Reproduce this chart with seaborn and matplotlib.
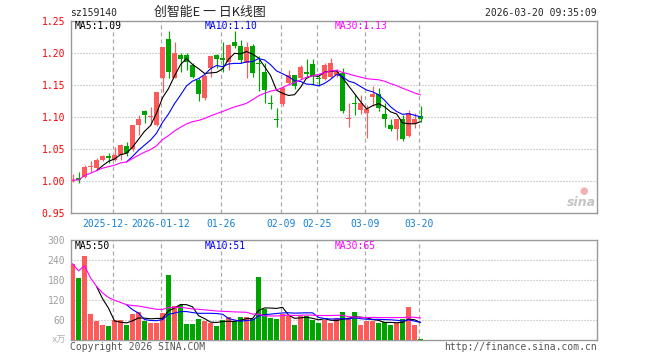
import numpy as np
import pandas as pd
import matplotlib
matplotlib.use("Agg")
import matplotlib.pyplot as plt
import matplotlib.transforms as mtransforms
import seaborn as sns

# chart data
dates = ["2025-12-18", "2025-12-19", "2025-12-22", "2025-12-23", "2025-12-24",
         "2025-12-25", "2025-12-26", "2025-12-29", "2025-12-30", "2025-12-31",
         "2026-01-05", "2026-01-06", "2026-01-07", "2026-01-08", "2026-01-09",
         "2026-01-12", "2026-01-13", "2026-01-14", "2026-01-15", "2026-01-16",
         "2026-01-19", "2026-01-20", "2026-01-21", "2026-01-22", "2026-01-23",
         "2026-01-26", "2026-01-27", "2026-01-28", "2026-01-29", "2026-01-30",
         "2026-02-02", "2026-02-03", "2026-02-04", "2026-02-05", "2026-02-06",
         "2026-02-09", "2026-02-10", "2026-02-11", "2026-02-12", "2026-02-13",
         "2026-02-24", "2026-02-25", "2026-02-26", "2026-02-27", "2026-03-02",
         "2026-03-03", "2026-03-04", "2026-03-05", "2026-03-06", "2026-03-09",
         "2026-03-10", "2026-03-11", "2026-03-12", "2026-03-13", "2026-03-16",
         "2026-03-17", "2026-03-18", "2026-03-19", "2026-03-20"]

opens = [1.000, 1.004, 1.006, 1.021, 1.020, 1.032, 1.038, 1.033, 1.040, 1.054,
         1.049, 1.087, 1.108, 1.100, 1.087, 1.160, 1.221, 1.160, 1.196, 1.196,
         1.181, 1.157, 1.129, 1.176, 1.196, 1.191, 1.186, 1.216, 1.210, 1.183,
         1.210, 1.184, 1.169, 1.122, 1.096, 1.120, 1.153, 1.165, 1.160, 1.169,
         1.182, 1.161, 1.159, 1.162, 1.165, 1.168, 1.096, 1.122, 1.110, 1.105,
         1.130, 1.135, 1.104, 1.087, 1.081, 1.097, 1.069, 1.088, 1.101]
closes = [1.001, 1.001, 1.022, 1.022, 1.032, 1.039, 1.036, 1.040, 1.056, 1.043,
          1.087, 1.097, 1.102, 1.101, 1.139, 1.208, 1.169, 1.200, 1.190, 1.186,
          1.162, 1.136, 1.163, 1.194, 1.190, 1.189, 1.211, 1.210, 1.189, 1.209,
          1.168, 1.182, 1.142, 1.120, 1.094, 1.144, 1.165, 1.148, 1.177, 1.167,
          1.163, 1.159, 1.181, 1.183, 1.170, 1.109, 1.097, 1.120, 1.121, 1.112,
          1.135, 1.113, 1.096, 1.081, 1.096, 1.065, 1.106, 1.096, 1.097]
highs = [1.010, 1.014, 1.024, 1.030, 1.036, 1.040, 1.043, 1.052, 1.058, 1.060,
         1.087, 1.103, 1.110, 1.115, 1.139, 1.208, 1.233, 1.217, 1.200, 1.200,
         1.183, 1.160, 1.166, 1.194, 1.197, 1.217, 1.213, 1.234, 1.220, 1.216,
         1.214, 1.195, 1.183, 1.134, 1.113, 1.147, 1.172, 1.165, 1.181, 1.190,
         1.190, 1.163, 1.184, 1.192, 1.175, 1.176, 1.121, 1.136, 1.133, 1.118,
         1.148, 1.145, 1.121, 1.096, 1.097, 1.103, 1.110, 1.105, 1.117]
lows = [0.998, 0.997, 1.004, 1.014, 1.016, 1.030, 1.027, 1.030, 1.032, 1.039,
        1.047, 1.071, 1.090, 1.087, 1.085, 1.139, 1.160, 1.160, 1.170, 1.172,
        1.160, 1.125, 1.126, 1.162, 1.176, 1.170, 1.172, 1.207, 1.183, 1.160,
        1.162, 1.140, 1.122, 1.112, 1.084, 1.116, 1.149, 1.143, 1.158, 1.160,
        1.150, 1.148, 1.157, 1.160, 1.162, 1.105, 1.083, 1.103, 1.104, 1.066,
        1.116, 1.108, 1.084, 1.077, 1.064, 1.062, 1.068, 1.082, 1.092]
# volume in 万
volumes = [229, 186, 253, 78, 58, 46, 42, 61, 61, 46,
           78, 85, 58, 51, 51, 80, 196, 102, 104, 48,
           48, 63, 58, 51, 43, 61, 68, 56, 68, 68,
           62, 189, 94, 66, 63, 78, 73, 45, 73, 73,
           61, 51, 61, 51, 66, 84, 64, 84, 45, 56,
           58, 51, 54, 45, 51, 64, 99, 45, 3]

tick_dates = ["2025-12-29", "2026-01-12", "2026-01-26", "2026-02-09",
              "2026-02-25", "2026-03-09", "2026-03-20"]
# first label is cut off by the second one in the original
tick_texts = ["2025-12-", "2026-01-12", "01-26", "02-09", "02-25", "03-09", "03-20"]
price_ticks = [0.95, 1.00, 1.05, 1.10, 1.15, 1.20, 1.25]
vol_ticks = [60, 120, 180, 240, 300]

code = "sz159140"
title = "创智能E 一 日K线图"
stamp = "2026-03-20 09:35:09"
price_ma_text = ["MA5:1.09", "MA10:1.10", "MA30:1.13"]
vol_ma_text = ["MA5:50", "MA10:51", "MA30:65"]

UP = "#ff5a5a"
DOWN = "#00a400"
MA_COLORS = ["#000000", "#0000ff", "#ff00ff"]
FRAME = "#999999"
GRID = "#aaaaaa"
MONO = "DejaVu Sans Mono"

sns.set_style("white")
plt.rcParams["font.family"] = [MONO, "Noto Sans CJK SC"]
plt.rcParams["lines.scale_dashes"] = False

df = pd.DataFrame({"date": dates, "open": opens, "close": closes,
                   "high": highs, "low": lows, "vol": volumes})
df["i"] = np.arange(len(df))
df["dir"] = np.where(df["close"] >= df["open"], "up", "down")
for col, src in [("p", "close"), ("v", "vol")]:
    df[col + "5"] = df[src].rolling(5).mean()
    df[col + "10"] = df[src].rolling(10).mean()
    df[col + "30"] = df[src].rolling(30, min_periods=1).mean()

W, H = 660, 360
fig = plt.figure(figsize=(W / 100, H / 100), dpi=100)
L, R = 70.7, 597.0
ax1 = fig.add_axes([L / W, 1 - 212.7 / H, (R - L) / W, (212.7 - 20.5) / H])
ax2 = fig.add_axes([L / W, 1 - 340 / H, (R - L) / W, 100 / H])

xlim = (-0.3, 87.4)
dash = (0, (2.9, 2.2))
dot = (0, (0.72, 1.44))

# ---- price panel
cols = [UP if d == "up" else DOWN for d in df["dir"]]
ax1.vlines(df["i"], df["low"], df["high"], colors=cols, lw=0.85, zorder=3)
body_lo = np.minimum(df["open"], df["close"])
body_h = np.maximum((df["close"] - df["open"]).abs(), 0.0014)
ax1.bar(df["i"], body_h, bottom=body_lo, width=0.82, color=cols, lw=0, zorder=3)
for col, c in zip(["p5", "p10", "p30"], MA_COLORS):
    sns.lineplot(data=df, x="i", y=col, ax=ax1, color=c, lw=0.8, zorder=4)

# ---- volume panel
sns.barplot(data=df, x="i", y="vol", hue="dir", palette={"up": UP, "down": DOWN},
            dodge=False, width=0.85, legend=False, ax=ax2, zorder=3,
            saturation=1, linewidth=0)
for col, c in zip(["v5", "v10", "v30"], MA_COLORS):
    ax2.plot(df["i"], df[col], color=c, lw=0.8, zorder=4)

tick_idx = [dates.index(d) - 0.3 for d in tick_dates]
for ax in (ax1, ax2):
    ax.set_xlim(*xlim)
    ax.set_xticks([])
    ax.set_xlabel("")
    ax.set_ylabel("")
    for s in ax.spines.values():
        s.set_color(FRAME)
        s.set_linewidth(1.0)
    for t in tick_idx:
        ax.axvline(t, color=GRID, lw=0.9, ls=dash, zorder=1)

ax1.set_ylim(0.95, 1.25)
ax1.set_yticks(price_ticks)
ax1.set_yticklabels([f"{t:.2f}" for t in price_ticks], color="#ff0000", fontsize=7)
for t in price_ticks[1:-1]:
    ax1.axhline(t, color=GRID, lw=0.8, ls=dot, zorder=1)

ax2.set_ylim(0, 300)
ax2.set_yticks(vol_ticks)
ax2.set_yticklabels([str(t) for t in vol_ticks], color="#a0a0a0", fontsize=7)
for t in vol_ticks[:-1]:
    ax2.axhline(t, color=GRID, lw=0.8, ls=dot, zorder=1)
for ax in (ax1, ax2):
    ax.tick_params(axis="y", length=0, pad=4)

# date labels under the price panel
trans = mtransforms.blended_transform_factory(ax1.transData, ax1.transAxes)
for k, (t, s) in enumerate(zip(tick_idx, tick_texts)):
    if k == 0:
        fig.text(82 / W, 1 - 224 / H, s, fontsize=7, color="#1580d8", va="center")
    else:
        ax1.text(t, -0.058, s, transform=trans, ha="center", va="center",
                 fontsize=7, color="#1580d8")

# MA labels
for k, (s, c) in enumerate(zip(price_ma_text, MA_COLORS)):
    fig.text((75 + 130 * k) / W, 1 - 26 / H, s, color=c, fontsize=7, va="center")
for k, (s, c) in enumerate(zip(vol_ma_text, MA_COLORS)):
    fig.text((75 + 130 * k) / W, 1 - 246 / H, s, color=c, fontsize=7, va="center")

# header and footer texts
fig.text(70 / W, 1 - 13 / H, code, fontsize=7, va="center")
fig.text(209.5 / W, 1 - 12.5 / H, title, fontsize=9.3, ha="center", va="center",
         family=["Noto Sans CJK SC", MONO])
fig.text(597 / W, 1 - 13 / H, stamp, fontsize=7, ha="right", va="center")
fig.text(66 / W, 1 - 340 / H, "x万", fontsize=6.5, ha="right", va="center",
         color="#b0b0b0", family=[MONO, "Noto Sans CJK SC"])
fig.text(70 / W, 1 - 347 / H, "Copyright 2026 SINA.COM", fontsize=7,
         va="center", color="#555555")
fig.text(597 / W, 1 - 347 / H, "http://finance.sina.com.cn", fontsize=7,
         ha="right", va="center", color="#555555")
fig.text(596 / W, 1 - 203 / H, "sina", fontsize=9, ha="right", va="center",
         color="#c4c4c4", style="italic", weight="bold", family="DejaVu Sans")
fig.text(584 / W, 1 - 191 / H, "●", fontsize=7, ha="center", va="center",
         color="#f4b0b0", family="DejaVu Sans")

fig.savefig("out.png", dpi=100)
